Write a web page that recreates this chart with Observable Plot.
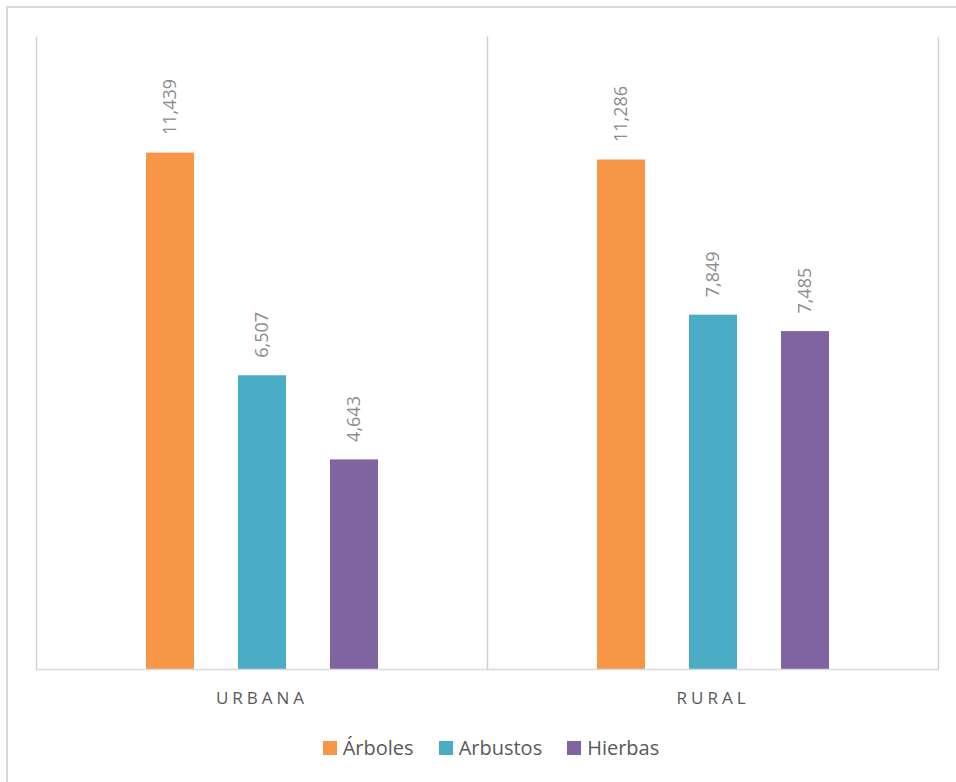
<!DOCTYPE html>
<html>
<head>
<meta charset="utf-8">
<script src="https://cdn.jsdelivr.net/npm/d3@7"></script>
<script src="https://cdn.jsdelivr.net/npm/@observablehq/plot@0.6"></script>
<style>
  html, body { margin: 0; padding: 0; background: #fff; overflow: hidden; width: 956px; height: 782px; }
  #frame { position: absolute; left: 6px; top: 6px; width: 1000px; height: 1000px; border: 2px solid #d9d9d9; box-sizing: border-box; }
  #chart { position: absolute; left: 0; top: 0; }
  #legend { position: absolute; left: 40px; top: 734px; width: 902px; display: flex; justify-content: center; align-items: center;
            font-family: "Open Sans", sans-serif; font-size: 20px; color: #595959; }
  .item { display: flex; align-items: center; margin: 0 12.5px; }
  .sw { width: 14px; height: 14px; margin-right: 6px; }
</style>
</head>
<body>
<div id="frame"></div>
<div id="chart"></div>
<div id="legend"></div>
<script>
const areas = ["URBANA", "RURAL"];
const species = ["Árboles", "Arbustos", "Hierbas"];
const urbana = [11439, 6507, 4643];
const rural = [11286, 7849, 7485];
const colors = ["#F79646", "#4BACC6", "#8064A2"];

const series = {URBANA: urbana, RURAL: rural};
const data = [];
for (const a of areas) species.forEach((s, i) => data.push({area: a, species: s, value: series[a][i]}));

const fmt = d3.format(",");

const chart = Plot.plot({
  width: 956,
  height: 725,
  marginLeft: 36,
  marginRight: 18,
  marginTop: 37,
  marginBottom: 56,
  style: {fontFamily: "Open Sans, sans-serif", color: "#595959", background: "transparent"},
  fx: {domain: areas, padding: 0, label: null},
  x: {domain: species, paddingInner: 0.48, paddingOuter: 1.18, axis: null},
  y: {domain: [0, 14000], axis: null},
  color: {domain: species, range: colors},
  marks: [
    Plot.frame({anchor: "left", stroke: "#d0d0d0", strokeOpacity: 1, strokeWidth: 1.3}),
    Plot.frame({anchor: "right", stroke: "#d0d0d0", strokeOpacity: 1, strokeWidth: 1.3}),
    Plot.barY(data, {fx: "area", x: "species", y: "value", fill: "species"}),
    Plot.ruleY([0], {stroke: "#d9d9d9", strokeWidth: 1.5}),
    Plot.text(data, {fx: "area", x: "species", y: "value", text: d => fmt(d.value),
      rotate: -90, textAnchor: "start", dy: -18, fontSize: 18, fill: "#8c8c8c"}),
    Plot.axisFx({anchor: "bottom", tickSize: 0, tickPadding: 22, fontSize: 17, label: null})
  ]
});
d3.select(chart).selectAll('[aria-label="fx-axis tick label"] text').style("letter-spacing", "4px");
document.getElementById("chart").appendChild(chart);

const legend = d3.select("#legend");
species.forEach((s, i) => {
  const it = legend.append("div").attr("class", "item");
  it.append("div").attr("class", "sw").style("background", colors[i]);
  it.append("span").text(s);
});
</script>
</body>
</html>
